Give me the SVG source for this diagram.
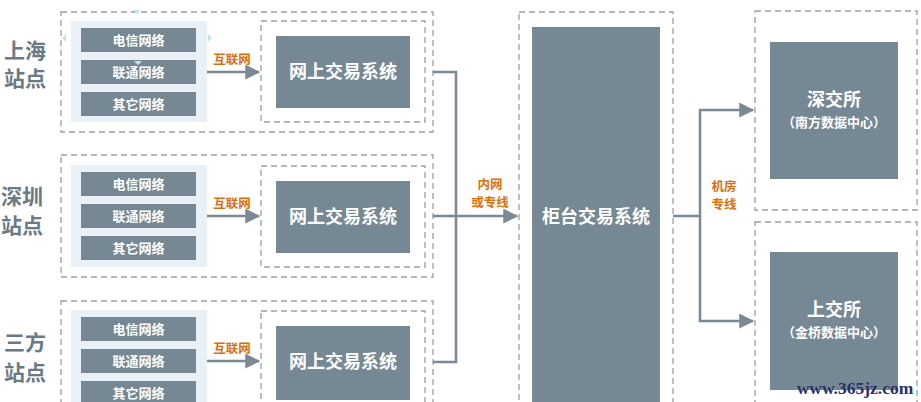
<svg xmlns="http://www.w3.org/2000/svg" width="921" height="402" viewBox="0 0 921 402">
<style>
.dash{fill:none;stroke:#9a9fa4;stroke-width:1.3;stroke-dasharray:6 4}
.panel{fill:#e9f0f6}
.box{fill:#778895}
.con{fill:none;stroke:#7a8996;stroke-width:2.5}
.t{font-family:"Noto Sans CJK SC","Noto Sans",sans-serif;font-weight:bold;fill:#ffffff;text-anchor:middle}
.net{font-size:13px}
.sys{font-size:18px}
.sub{font-size:13px}
.lbl{font-family:"Noto Sans CJK SC","Noto Sans",sans-serif;font-weight:bold;fill:#d9700f;font-size:12.5px;text-anchor:middle}
.site{font-family:"Noto Sans CJK SC","Noto Sans",sans-serif;font-weight:bold;fill:#6a7986;font-size:21px;text-anchor:middle}
.hd{fill:#bfe5ef}
</style>
<defs>
<marker id="ah" markerWidth="6" markerHeight="6" refX="5.5" refY="3" orient="auto" markerUnits="strokeWidth">
<path d="M0,0 L6,3 L0,6 Z" fill="#7a8996"/>
</marker>
</defs>
<rect width="921" height="402" fill="#ffffff"/>

<g id="site-sh">
<text class="site" x="25" y="58">上海</text>
<text class="site" x="25" y="86">站点</text>
<rect class="dash" x="61" y="12" width="372" height="120"/>
<rect class="panel" x="71" y="21" width="136" height="101"/>
<rect class="box" x="81" y="28" width="115" height="24"/>
<rect class="box" x="81" y="60" width="115" height="24"/>
<rect class="box" x="81" y="92" width="115" height="24"/>
<text class="t net" x="138.5" y="45">电信网络</text>
<text class="t net" x="138.5" y="77">联通网络</text>
<text class="t net" x="138.5" y="109">其它网络</text>
<rect class="dash" x="261" y="21" width="164" height="101"/>
<rect class="box" x="276" y="36" width="134" height="72"/>
<text class="t sys" x="343" y="78">网上交易系统</text>
<path class="hd" d="M133,10 L141,10 L137,14 Z"/>
<path class="hd" d="M66,34 L66,42 L62,38 Z"/>
<path class="hd" d="M208,34 L208,42 L212,38 Z"/>
<path class="hd" d="M134,61 L142,61 L138,65 Z"/>
</g>

<g id="site-sz">
<text class="site" x="22" y="204">深圳</text>
<text class="site" x="22" y="233">站点</text>
<rect class="dash" x="61" y="155" width="372" height="122"/>
<rect class="panel" x="71" y="165" width="136" height="102"/>
<rect class="box" x="81" y="172" width="115" height="24"/>
<rect class="box" x="81" y="204" width="115" height="24"/>
<rect class="box" x="81" y="236" width="115" height="24"/>
<text class="t net" x="138.5" y="189">电信网络</text>
<text class="t net" x="138.5" y="221">联通网络</text>
<text class="t net" x="138.5" y="253">其它网络</text>
<rect class="dash" x="261" y="166" width="164" height="101"/>
<rect class="box" x="276" y="181" width="134" height="72"/>
<text class="t sys" x="343" y="223">网上交易系统</text>
</g>

<g id="site-3rd">
<text class="site" x="25" y="350">三方</text>
<text class="site" x="25" y="380">站点</text>
<rect class="dash" x="61" y="301" width="372" height="110"/>
<rect class="panel" x="71" y="310" width="136" height="100"/>
<rect class="box" x="81" y="317" width="115" height="24"/>
<rect class="box" x="81" y="349" width="115" height="24"/>
<rect class="box" x="81" y="381" width="115" height="24"/>
<text class="t net" x="138.5" y="334">电信网络</text>
<text class="t net" x="138.5" y="366">联通网络</text>
<text class="t net" x="138.5" y="398">其它网络</text>
<rect class="dash" x="261" y="311" width="164" height="100"/>
<rect class="box" x="276" y="326" width="134" height="74"/>
<text class="t sys" x="343" y="368">网上交易系统</text>
</g>

<g id="counter">
<rect class="dash" x="519" y="12" width="154" height="400"/>
<rect class="box" x="532" y="27" width="128" height="380"/>
<text class="t sys" x="596" y="223">柜台交易系统</text>
</g>

<g id="szse">
<rect class="dash" x="755" y="11" width="162" height="199"/>
<rect class="box" x="770" y="42" width="128" height="137"/>
<text class="t sys" x="834" y="106">深交所</text>
<text class="t sub" x="834" y="127">（南方数据中心）</text>
</g>

<g id="sse">
<rect class="dash" x="755" y="222" width="162" height="190"/>
<rect class="box" x="770" y="252" width="128" height="138"/>
<text class="t sys" x="834" y="316">上交所</text>
<text class="t sub" x="834" y="337">（金桥数据中心）</text>
</g>

<g id="connectors">
<line class="con" x1="207" y1="72" x2="259" y2="72" marker-end="url(#ah)"/>
<line class="con" x1="207" y1="216" x2="259" y2="216" marker-end="url(#ah)"/>
<line class="con" x1="207" y1="361" x2="259" y2="361" marker-end="url(#ah)"/>
<path class="con" d="M433,72 H456 V362 H433"/>
<line class="con" x1="433" y1="216" x2="517" y2="216" marker-end="url(#ah)"/>
<path class="con" d="M673,216 H700 V110 H753" marker-end="url(#ah)"/>
<path class="con" d="M700,216 V321 H753" marker-end="url(#ah)"/>
<text class="lbl" x="232" y="64">互联网</text>
<text class="lbl" x="232" y="208">互联网</text>
<text class="lbl" x="232" y="353">互联网</text>
<text class="lbl" x="490" y="189">内网</text>
<text class="lbl" x="490" y="207">或专线</text>
<text class="lbl" x="724" y="191">机房</text>
<text class="lbl" x="724" y="209">专线</text>
</g>

<text x="855" y="394" font-family="Liberation Serif, serif" font-weight="bold" font-size="17.5" fill="#27326b" text-anchor="middle">www.365jz.com</text>
</svg>
